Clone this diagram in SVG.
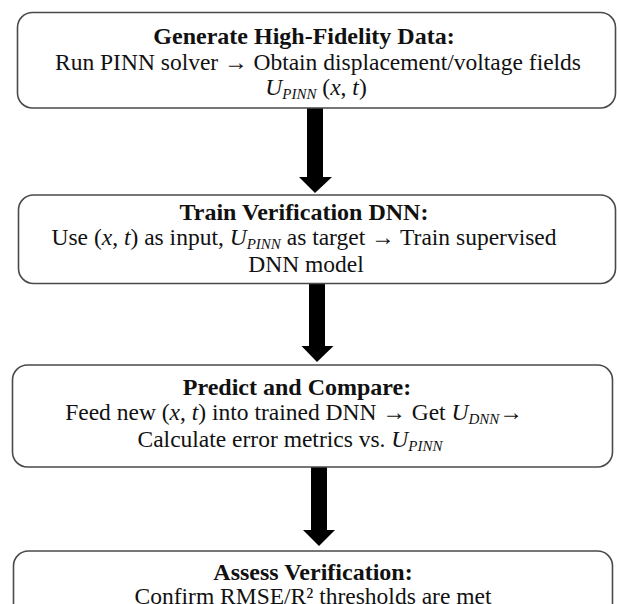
<svg xmlns="http://www.w3.org/2000/svg" width="617" height="604" viewBox="0 0 617 604">
  <style>
    .box { fill: #ffffff; stroke: #4a4a4a; stroke-width: 1.6; }
    .arrow { fill: #000000; }
    text { font-family: "Liberation Serif", "Times New Roman", serif; fill: #111111; text-anchor: middle; }
    .title { font-size: 24px; font-weight: bold; }
    .body { font-size: 23.5px; }
    .m { font-style: italic; }
    .sub { font-size: 15px; font-style: italic; }
  </style>
  <rect x="0" y="0" width="617" height="604" fill="#ffffff"/>

  <!-- connectors: thick block arrows between steps -->
  <g id="connectors">
    <polygon class="arrow" points="307,108 323,108 323,177 332,177 315,193 299,177 307,177"/>
    <polygon class="arrow" points="309,283 325,283 325,346 333.5,346 317,362 301.5,346 309,346"/>
    <polygon class="arrow" points="311,467 327,467 327,530 335,530 319,546 303,530 311,530"/>
  </g>

  <g id="step-generate">
    <rect class="box" x="17.5" y="12.5" width="598" height="95.5" rx="15"/>
    <text class="title" x="304" y="44">Generate High-Fidelity  Data:</text>
    <text class="body" x="318" y="70">Run PINN solver → Obtain displacement/voltage fields</text>
    <text class="body" x="316" y="95"><tspan class="m">U</tspan><tspan class="sub" dy="4">PINN</tspan><tspan dy="-4"> (</tspan><tspan class="m">x</tspan>, <tspan class="m">t</tspan>)</text>
  </g>

  <g id="step-train">
    <rect class="box" x="18.5" y="195" width="597" height="88.5" rx="15"/>
    <text class="title" x="304" y="220">Train Verification DNN:</text>
    <text class="body" x="304" y="245">Use (<tspan class="m">x</tspan>, <tspan class="m">t</tspan>) as input, <tspan class="m">U</tspan><tspan class="sub" dy="4">PINN</tspan><tspan dy="-4">  as target → Train supervised</tspan></text>
    <text class="body" x="306" y="272">DNN model</text>
  </g>

  <g id="step-predict">
    <rect class="box" x="12.5" y="365" width="600" height="102" rx="15"/>
    <text class="title" x="297" y="395">Predict and Compare:</text>
    <text class="body" x="294" y="420">Feed new (<tspan class="m">x</tspan>, <tspan class="m">t</tspan>) into trained DNN → Get <tspan class="m">U</tspan><tspan class="sub" dy="4">DNN</tspan><tspan dy="-4">→</tspan></text>
    <text class="body" x="290" y="447">Calculate error metrics vs. <tspan class="m">U</tspan><tspan class="sub" dy="4">PINN</tspan></text>
  </g>

  <g id="step-assess">
    <rect class="box" x="13.5" y="551" width="599" height="80" rx="15"/>
    <text class="title" x="313" y="580">Assess Verification:</text>
    <text class="body" x="313" y="604">Confirm RMSE/R² thresholds are met</text>
  </g>
</svg>
